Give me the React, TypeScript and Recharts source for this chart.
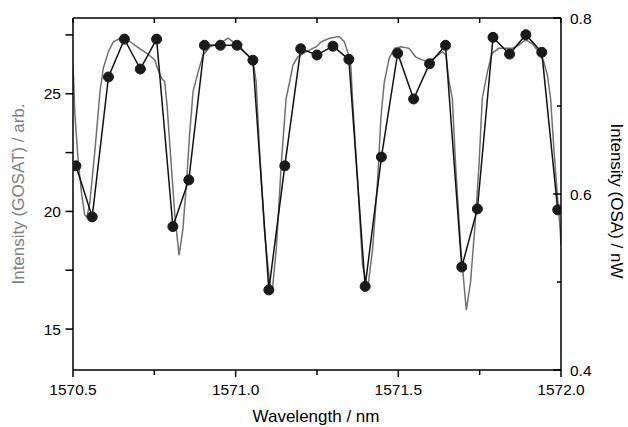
import React from 'react';
import { LineChart, Line, XAxis, YAxis } from 'recharts';

// GOSAT spectrum (gray trace, left axis)
const gosatWavelength = [
  1570.5, 1570.506, 1570.516, 1570.527, 1570.536, 1570.543, 1570.552, 1570.568, 1570.583, 1570.593,
  1570.609, 1570.624, 1570.645, 1570.66, 1570.675, 1570.696, 1570.727, 1570.752, 1570.756, 1570.772,
  1570.782, 1570.789, 1570.802, 1570.813, 1570.826, 1570.838, 1570.849, 1570.859, 1570.869, 1570.885,
  1570.9, 1570.921, 1570.951, 1570.977, 1570.992, 1571.008, 1571.032, 1571.053, 1571.063, 1571.073,
  1571.089, 1571.104, 1571.112, 1571.125, 1571.14, 1571.155, 1571.166, 1571.176, 1571.191, 1571.217,
  1571.248, 1571.263, 1571.288, 1571.318, 1571.334, 1571.344, 1571.354, 1571.359, 1571.375, 1571.39,
  1571.406, 1571.421, 1571.436, 1571.447, 1571.457, 1571.472, 1571.488, 1571.508, 1571.533, 1571.553,
  1571.574, 1571.594, 1571.615, 1571.635, 1571.646, 1571.656, 1571.666, 1571.676, 1571.692, 1571.709,
  1571.722, 1571.738, 1571.748, 1571.758, 1571.774, 1571.788, 1571.809, 1571.85, 1571.87, 1571.891,
  1571.911, 1571.932, 1571.947, 1571.958, 1571.968, 1571.978, 1571.988, 1571.998, 1572.0,
];
const gosatIntensity = [
  26.22, 24.09, 22.11, 20.69, 19.85, 19.75, 20.4, 22.69, 25.09, 26.08,
  26.79, 27.21, 27.36, 27.36, 27.21, 27.0, 26.72, 26.43, 26.22, 25.66,
  25.51, 24.52, 21.97, 19.84, 18.14, 19.27, 21.26, 23.38, 25.09, 25.94,
  26.65, 27.0, 27.14, 27.36, 27.21, 27.07, 26.72, 26.43, 25.51, 22.68,
  19.13, 17.0, 16.57, 18.42, 21.97, 24.8, 25.51, 26.22, 26.57, 26.79,
  27.0, 27.21, 27.36, 27.43, 27.21, 26.79, 26.22, 24.8, 21.26, 17.71,
  16.72, 18.42, 21.26, 24.09, 25.51, 26.51, 26.93, 27.0, 26.93, 26.57,
  26.43, 26.36, 26.57, 26.79, 26.65, 25.51, 24.8, 21.97, 18.42, 15.8,
  17.0, 19.84, 21.97, 24.8, 25.94, 26.72, 26.93, 26.93, 27.07, 27.29,
  27.14, 26.79, 26.36, 25.8, 24.8, 22.68, 20.83, 19.13, 18.56,
];

// OSA samples (black dots, right axis)
const osaWavelength = [
  1570.509, 1570.559, 1570.609, 1570.658, 1570.707, 1570.757, 1570.807, 1570.856, 1570.904, 1570.953,
  1571.004, 1571.053, 1571.102, 1571.151, 1571.2, 1571.25, 1571.299, 1571.348, 1571.398, 1571.448,
  1571.498, 1571.547, 1571.596, 1571.645, 1571.695, 1571.743, 1571.791, 1571.842, 1571.892, 1571.941,
  1571.99,
];
const osaIntensity = [
  0.632, 0.574, 0.733, 0.776, 0.742, 0.776, 0.563, 0.616, 0.769, 0.769,
  0.769, 0.752, 0.491, 0.632, 0.765, 0.758, 0.768, 0.753, 0.495, 0.642,
  0.76, 0.708, 0.748, 0.769, 0.517, 0.583, 0.778, 0.759, 0.781, 0.761,
  0.582,
];

const xTicks = [1570.5, 1570.75, 1571.0, 1571.25, 1571.5, 1571.75, 1572.0];
const xLabelled = [1570.5, 1571.0, 1571.5, 1572.0];
const leftTicks = [15, 17.5, 20, 22.5, 25, 27.5];
const leftLabelled = [15, 20, 25];
const rightTicks = [0.4, 0.5, 0.6, 0.7, 0.8];
const rightLabelled = [0.4, 0.6, 0.8];

const gosatData = gosatWavelength.map((w, i) => ({ w, g: gosatIntensity[i] }));
const osaData = osaWavelength.map((w, i) => ({ w, o: osaIntensity[i] }));

const FONT = '"Liberation Sans", Arial, sans-serif';
const axisLine = { stroke: '#000', strokeWidth: 1.5 };

const BottomTick = (p: any) => {
  const v = p.payload.value;
  const major = xLabelled.some((t) => Math.abs(t - v) < 1e-6);
  return (
    <g>
      <line x1={p.x} x2={p.x} y1={p.y} y2={p.y + (major ? 7 : 5)} stroke="#000" strokeWidth={1.5} />
      {major && (
        <text x={p.x} y={p.y + 25} textAnchor="middle" fontSize={15.5} fontFamily={FONT} fill="#000">
          {v.toFixed(1)}
        </text>
      )}
    </g>
  );
};

const TopTick = (p: any) => (
  <line x1={p.x} x2={p.x} y1={p.y} y2={p.y + 5} stroke="#000" strokeWidth={1.5} />
);

const LeftTick = (p: any) => {
  const v = p.payload.value;
  const major = leftLabelled.includes(v);
  return (
    <g>
      <line x1={p.x - 7.5} x2={p.x} y1={p.y} y2={p.y} stroke="#000" strokeWidth={1.5} />
      {major && (
        <text x={p.x - 12} y={p.y} dy="0.36em" textAnchor="end" fontSize={15.5} fontFamily={FONT} fill="#000">
          {v}
        </text>
      )}
    </g>
  );
};

const RightTick = (p: any) => {
  const v = p.payload.value;
  const major = rightLabelled.some((t) => Math.abs(t - v) < 1e-6);
  return (
    <g>
      <line x1={p.x - (major ? 8 : 4)} x2={p.x} y1={p.y} y2={p.y} stroke="#000" strokeWidth={1.5} />
      {major && (
        <text x={p.x + 9} y={p.y} dy="0.36em" textAnchor="start" fontSize={15.5} fontFamily={FONT} fill="#000">
          {v.toFixed(1)}
        </text>
      )}
    </g>
  );
};

export default function App() {
  return (
    <div style={{ position: 'relative', width: 628, height: 427, background: '#fff' }}>
      <style>{'body{margin:0}'}</style>
      <LineChart width={628} height={427} margin={{ top: 0, right: 0, bottom: 0, left: 0 }}>
        <XAxis
          dataKey="w"
          type="number"
          domain={[1570.5, 1572.0]}
          ticks={xTicks}
          interval={0}
          allowDataOverflow
          height={57}
          tickSize={0}
          tickMargin={0}
          axisLine={axisLine}
          tick={BottomTick}
        />
        <XAxis
          xAxisId="top"
          orientation="top"
          dataKey="w"
          type="number"
          domain={[1570.5, 1572.0]}
          ticks={xTicks}
          interval={0}
          allowDataOverflow
          height={18}
          tickSize={0}
          tickMargin={0}
          axisLine={axisLine}
          tick={TopTick}
        />
        <YAxis
          yAxisId="left"
          orientation="left"
          type="number"
          domain={[13.26, 28.22]}
          ticks={leftTicks}
          interval={0}
          allowDataOverflow
          width={73}
          tickSize={0}
          tickMargin={0}
          axisLine={axisLine}
          tick={LeftTick}
        />
        <YAxis
          yAxisId="right"
          orientation="right"
          type="number"
          domain={[0.4, 0.8]}
          ticks={rightTicks}
          interval={0}
          allowDataOverflow
          width={67}
          tickSize={0}
          tickMargin={0}
          axisLine={axisLine}
          tick={RightTick}
        />
        <Line
          yAxisId="left"
          data={gosatData}
          dataKey="g"
          type="linear"
          stroke="#707070"
          strokeWidth={1.5}
          dot={false}
          isAnimationActive={false}
        />
        <Line
          yAxisId="right"
          data={osaData}
          dataKey="o"
          type="linear"
          stroke="#111"
          strokeWidth={1.5}
          dot={{ r: 5, fill: '#1a1a1a', stroke: '#1a1a1a', strokeWidth: 1 }}
          isAnimationActive={false}
        />
      </LineChart>
      <svg
        width={628}
        height={427}
        style={{ position: 'absolute', left: 0, top: 0, pointerEvents: 'none' }}
      >
        <text
          x={18}
          y={194}
          transform="rotate(-90 18 194)"
          textAnchor="middle"
          dominantBaseline="central"
          fontSize={17}
          fontFamily={FONT}
          fill="#808080"
        >
          Intensity (GOSAT) / arb.
        </text>
        <text
          x={616}
          y={201}
          transform="rotate(90 616 201)"
          textAnchor="middle"
          dominantBaseline="central"
          fontSize={17}
          fontFamily={FONT}
          fill="#000"
        >
          Intensity (OSA) / nW
        </text>
        <text x={316} y={421.5} textAnchor="middle" fontSize={17} fontFamily={FONT} fill="#000">
          Wavelength / nm
        </text>
      </svg>
    </div>
  );
}
